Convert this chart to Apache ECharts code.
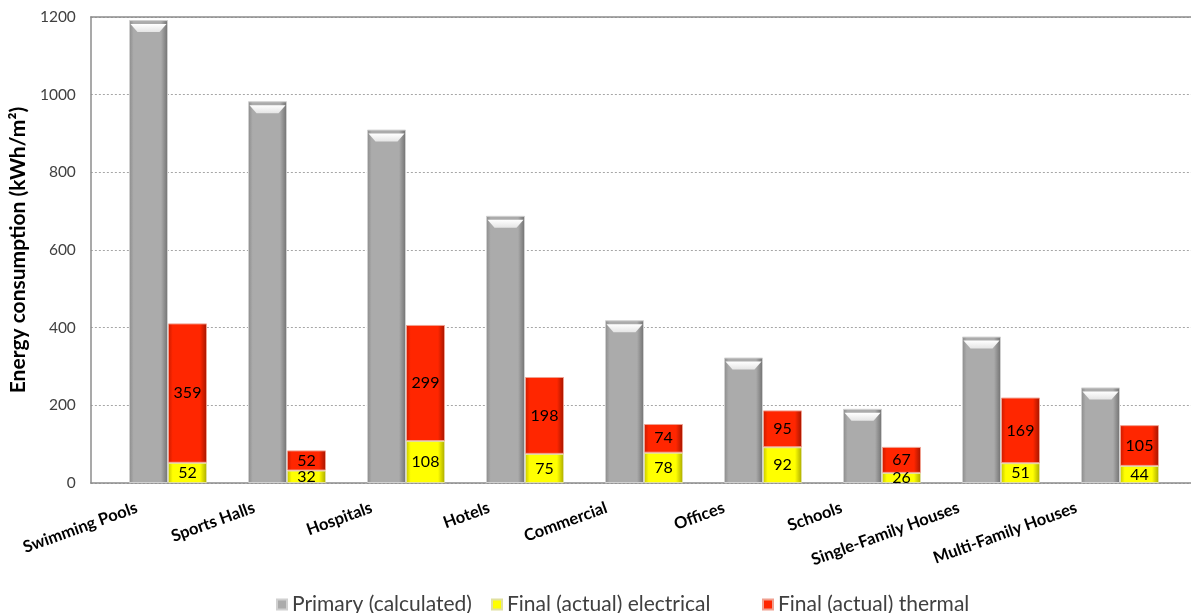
<!DOCTYPE html>
<html>
<head>
<meta charset="utf-8">
<script src="https://cdn.jsdelivr.net/npm/echarts@6/dist/echarts.min.js"></script>
<style>
html,body{margin:0;padding:0;background:#fff;}
#chart{width:1191px;height:613px;}
</style>
</head>
<body>
<div id="chart"></div>
<script>
const categories = ['Swimming Pools','Sports Halls','Hospitals','Hotels','Commercial','Offices','Schools','Single-Family Houses','Multi-Family Houses'];
const primary = [1192, 983, 910, 688, 419, 323, 191, 377, 246];
const electrical = [52, 32, 108, 75, 78, 92, 26, 51, 44];
const thermal = [359, 52, 299, 198, 74, 95, 67, 169, 105];
const seriesNames = ['Primary (calculated)', 'Final (actual) electrical', 'Final (actual) thermal'];
const yMin = 0, yMax = 1200, yStep = 200;

const FONT = 'Lato, "Open Sans", sans-serif';

function hGrad(edgeL, mid, edgeR) {
  return new echarts.graphic.LinearGradient(0, 0, 1, 0, [
    {offset: 0, color: edgeL},
    {offset: 0.12, color: mid},
    {offset: 0.82, color: mid},
    {offset: 1, color: edgeR}
  ]);
}

const chart = echarts.init(document.getElementById('chart'), null, {renderer: 'canvas'});
const valueLabel = {
  show: true, position: 'inside', color: '#000', fontFamily: FONT, fontSize: 16
};
const legendText = {fontFamily: FONT, fontSize: 21, color: '#404040'};

chart.setOption({
  animation: false,
  backgroundColor: '#fff',
  grid: [
    {left: 88, right: 0, top: 17, bottom: 130},
    {left: 108.5, width: 1071, top: 17, bottom: 130},
    {left: 78, width: 1057, top: 17, bottom: 130}
  ],
  legend: [
    {data: [seriesNames[0]], left: 271, top: 589, icon: 'rect', itemWidth: 10, itemHeight: 10, itemGap: 6, textStyle: legendText},
    {data: [seriesNames[1]], left: 486, top: 589, icon: 'rect', itemWidth: 10, itemHeight: 10, itemGap: 6, textStyle: legendText},
    {data: [seriesNames[2]], left: 757, top: 589, icon: 'rect', itemWidth: 10, itemHeight: 10, itemGap: 6, textStyle: legendText}
  ],
  xAxis: [
    {gridIndex: 0, type: 'category', data: categories, position: 'bottom',
     axisLine: {lineStyle: {color: '#8c8c8c', width: 1.5}}, axisTick: {show: false}, axisLabel: {show: false}},
    {gridIndex: 0, type: 'category', data: categories, position: 'top',
     axisLine: {lineStyle: {color: '#8c8c8c', width: 1.5}}, axisTick: {show: false}, axisLabel: {show: false}},
    {gridIndex: 1, type: 'category', data: categories, show: false},
    {gridIndex: 2, type: 'category', data: categories,
     axisLine: {show: false}, axisTick: {show: false},
     axisLabel: {rotate: 20, margin: 24, interval: 0, fontFamily: FONT, fontWeight: 'bold', fontSize: 16.5, color: '#000'}}
  ],
  yAxis: [
    {gridIndex: 0, type: 'value', min: yMin, max: yMax, interval: yStep,
     name: 'Energy consumption (kWh/m²)', nameLocation: 'middle', nameGap: 46, nameRotate: 90,
     nameTextStyle: {fontFamily: FONT, fontWeight: 'bold', fontSize: 21, color: '#000'},
     axisLine: {show: true, lineStyle: {color: '#8c8c8c', width: 1.5}},
     axisTick: {show: false},
     axisLabel: {margin: 15, fontFamily: FONT, fontSize: 15.5, color: '#404040', formatter: v => String(v)},
     splitLine: {lineStyle: {color: '#a6a6a6', type: [2, 2], width: 1}}},
    {gridIndex: 1, type: 'value', min: yMin, max: yMax, interval: yStep, show: false, splitLine: {show: false}},
    {gridIndex: 2, type: 'value', min: yMin, max: yMax, interval: yStep, show: false, splitLine: {show: false}}
  ],
  series: [
    {name: seriesNames[0], type: 'bar', xAxisIndex: 2, yAxisIndex: 1, data: primary,
     barWidth: 39, barGap: '0%',
     itemStyle: {color: hGrad('#8a8a8a', '#ababab', '#6f6f6f'), borderColor: '#d0d0d0', borderWidth: 1}},
    {name: seriesNames[1], type: 'bar', xAxisIndex: 2, yAxisIndex: 1, data: electrical, stack: 'final',
     barWidth: 39, barGap: '0%',
     label: valueLabel,
     itemStyle: {color: hGrad('#c4c400', '#ffff00', '#a8a800'), borderColor: '#e0e0a0', borderWidth: 1}},
    {name: seriesNames[2], type: 'bar', xAxisIndex: 2, yAxisIndex: 1, data: thermal, stack: 'final',
     barWidth: 39, barGap: '0%',
     label: valueLabel,
     itemStyle: {color: hGrad('#c81a00', '#ff2600', '#a01400'), borderColor: '#f0a090', borderWidth: 1}},
    {name: 'bevel', type: 'pictorialBar', xAxisIndex: 2, yAxisIndex: 1, data: primary,
     symbol: 'path://M0,0 L36,0 L29,7 L7,7 Z', symbolKeepAspect: false,
     symbolSize: [36, 8], symbolPosition: 'end', symbolOffset: [-19.5, '50%'],
     silent: true, z: 5, legendHoverLink: false,
     itemStyle: {color: new echarts.graphic.LinearGradient(0, 0, 0, 1, [
       {offset: 0, color: '#ffffff'}, {offset: 1, color: '#e4e4e4'}])}}
  ]
});
</script>
</body>
</html>
